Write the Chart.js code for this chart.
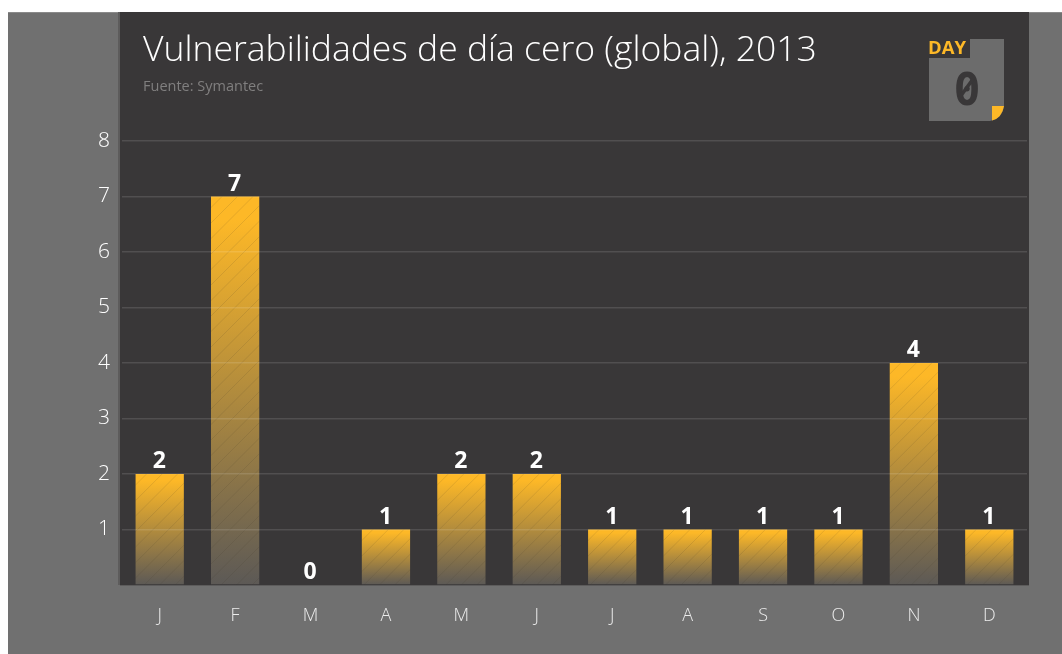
<!DOCTYPE html>
<html><head><meta charset="utf-8">
<style>html,body{margin:0;padding:0;background:#fff}canvas{display:block}</style>
<script src="https://cdn.jsdelivr.net/npm/chart.js@4"></script>
</head><body>
<canvas id="c" width="1062" height="654"></canvas>
<script>
const months = ['J','F','M','A','M','J','J','A','S','O','N','D'];
const values = [2,7,0,1,2,2,1,1,1,1,4,1];
const yTicks = [1,2,3,4,5,6,7,8];
const titleText = 'Vulnerabilidades de día cero (global), 2013';
const sourceText = 'Fuente: Symantec';
const badgeWord = 'DAY';
const badgeDigit = '0';

const YEL='#fdb827', PANEL='#393738', OUTER='#707070';
const SANS='"Open Sans","Noto Sans",sans-serif';

function txt(ctx,s,x,y,font,color,align){
  ctx.font=font;ctx.fillStyle=color;ctx.textAlign=align||'left';ctx.textBaseline='alphabetic';ctx.fillText(s,x,y);
}
const decor={
  id:'decor',
  beforeDraw(chart){
    const c=chart.ctx;c.save();
    c.fillStyle='#fff';c.fillRect(0,0,1062,654);
    c.fillStyle=OUTER;c.fillRect(8,12,1054,642);
    c.fillStyle='#8a8a8a';c.fillRect(8,12,1054,1);
    c.fillStyle='#5d5c5c';c.fillRect(118,12,2,573);
    c.fillStyle=PANEL;c.fillRect(120,12,909,573);
    c.fillStyle='#5d5c5c';c.fillRect(120,585,909,1);
    // badge
    c.fillStyle='#6c6c6c';
    c.beginPath();c.moveTo(970,39);c.lineTo(1004,39);c.lineTo(1004,106);c.quadraticCurveTo(1002,119,990,121);c.lineTo(929,121);c.lineTo(929,58);c.lineTo(970,58);c.closePath();c.fill();
    c.fillStyle=YEL;
    c.beginPath();c.moveTo(992,106);c.lineTo(1004,106);c.quadraticCurveTo(1002,118,992,120.5);c.closePath();c.fill();
    txt(c,badgeWord,928,54,'bold 18.5px '+SANS,YEL);
    txt(c,badgeDigit,967,105,'bold 45px "DejaVu Sans Mono"',PANEL,'center');
    c.strokeStyle=PANEL;c.lineWidth=3.5;c.beginPath();c.moveTo(960,97);c.lineTo(973,79);c.stroke();
    txt(c,titleText,143,61,'300 35.5px '+SANS,'#ffffff');
    txt(c,sourceText,143,91,'14.5px '+SANS,'#807f7f');
    c.restore();
  },
  afterDatasetsDraw(chart){
    const c=chart.ctx,meta=chart.getDatasetMeta(0);
    c.save();
    meta.data.forEach((b,i)=>{
      const h=b.base-b.y;
      if(h>0){
        const l=b.x-b.width/2;
        c.save();c.beginPath();c.rect(l,b.y,b.width,h);c.clip();
        c.strokeStyle='rgba(70,60,50,0.13)';c.lineWidth=1;c.beginPath();
        for(let x=l-h-20;x<l+b.width+20;x+=15.5){c.moveTo(x,b.base);c.lineTo(x+h,b.y);}
        c.stroke();c.restore();
      }
      txt(c,String(values[i]),b.x-0.5,b.y-6,'bold 23px '+SANS,'#ffffff','center');
    });
    c.restore();
  }
};
new Chart(document.getElementById('c'),{
  type:'bar',
  data:{labels:months,datasets:[{data:values,barPercentage:0.64,categoryPercentage:1,
    backgroundColor(ctx){
      const chart=ctx.chart;
      if(!chart.chartArea||ctx.parsed===undefined)return YEL;
      const y=chart.scales.y,t=y.getPixelForValue(ctx.parsed.y),b=y.getPixelForValue(0);
      if(b-t<=0)return YEL;
      const g=chart.ctx.createLinearGradient(0,t,0,b);
      g.addColorStop(0,YEL);g.addColorStop(0.06,YEL);g.addColorStop(1,'#5c5956');
      return g;
    }}]},
  options:{
    responsive:false,animation:false,devicePixelRatio:1,
    layout:{padding:{left:0,right:35,top:141,bottom:0}},
    plugins:{legend:{display:false},tooltip:{enabled:false},title:{display:false}},
    scales:{
      x:{grid:{display:false},border:{display:false},
        ticks:{color:'#ececec',font:{family:SANS,size:18,weight:'300'},padding:12,maxRotation:0,autoSkip:false},
        afterFit(s){s.height=69;}
      },
      y:{min:0,max:8,afterFit(s){s.width=122;},
        afterBuildTicks(s){s.ticks=[0].concat(yTicks).map(v=>({value:v}));},
        grid:{z:1,color(ctx){return ctx.tick&&ctx.tick.value===0?'rgba(0,0,0,0)':'rgba(255,255,255,0.12)';},lineWidth:1.4,drawTicks:false},
        border:{display:false},
        ticks:{color:'#ffffff',font:{family:SANS,size:21,weight:'300'},padding:12,callback(v){return v===0?'':String(v);}}
      }
    }
  },
  plugins:[decor]
});
</script>
</body></html>
